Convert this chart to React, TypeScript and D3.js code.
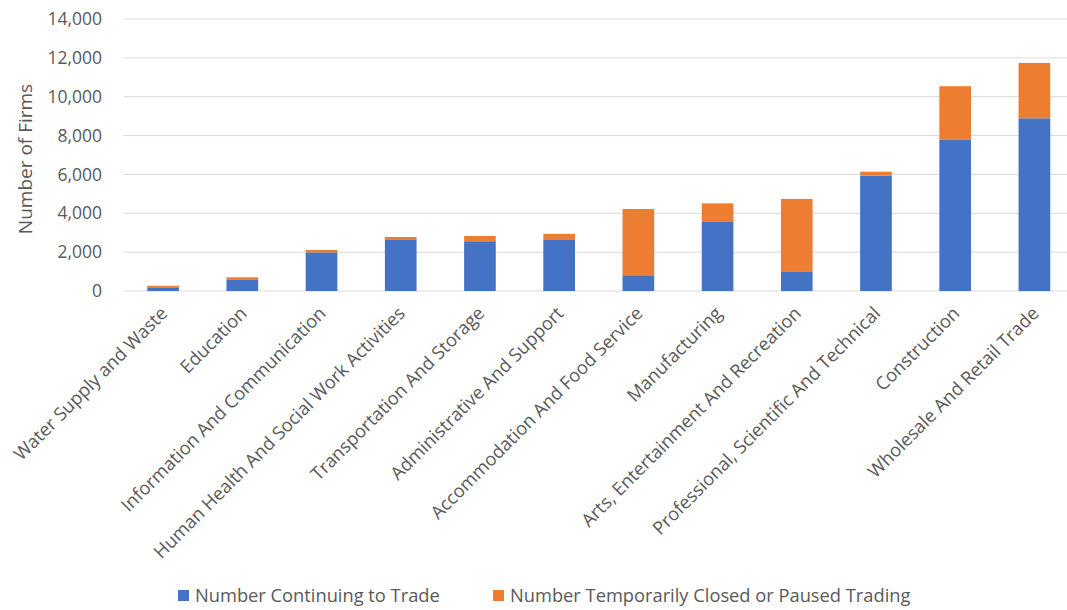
import React from "react";
import * as d3 from "d3";

const categories = [
  "Water Supply and Waste",
  "Education",
  "Information And Communication",
  "Human Health And Social Work Activities",
  "Transportation And Storage",
  "Administrative And Support",
  "Accommodation And Food Service",
  "Manufacturing",
  "Arts, Entertainment And Recreation",
  "Professional, Scientific And Technical",
  "Construction",
  "Wholesale And Retail Trade",
];
const continuing = [190, 600, 1990, 2660, 2560, 2660, 810, 3550, 980, 5940, 7780, 8890];
const closed = [80, 105, 120, 120, 270, 280, 3410, 960, 3760, 200, 2760, 2850];
const yTicks = [0, 2000, 4000, 6000, 8000, 10000, 12000, 14000];
const seriesNames = ["Number Continuing to Trade", "Number Temporarily Closed or Paused Trading"];
const colors = ["#4472C4", "#ED7D31"];

const W = 1067, H = 610;
const M = { left: 123.5, right: 1074, top: 19, bottom: 291 };
const FONT = "'Open Sans', sans-serif";

export default function App() {
  const x = d3.scaleBand<string>().domain(categories).range([M.left, M.right]).paddingInner(0.6).paddingOuter(0.3);
  const y = d3.scaleLinear().domain([0, 14000]).range([M.bottom, M.top]);
  const fmt = d3.format(",");
  const stack = d3.stack<number>().keys(["0", "1"]).value((i, k) => (k === "0" ? continuing[i] : closed[i]));
  const series = stack(categories.map((_, i) => i));
  return (
    <svg width={W} height={H} style={{ position: "absolute", left: 0, top: 0, background: "#fff" }}>
      <rect width={W} height={H} fill="#fff" />
      {yTicks.map((t) => (
        <g key={t}>
          <line x1={M.left} x2={M.right} y1={y(t)} y2={y(t)} stroke="#d9d9d9" strokeWidth={1} />
          <text x={102} y={y(t)} dy="0.35em" textAnchor="end" fontFamily={FONT} fontSize={17.5} fill="#595959">
            {fmt(t)}
          </text>
        </g>
      ))}
      <text transform={`translate(32,${(M.top + M.bottom) / 2 + 4}) rotate(-90)`} textAnchor="middle" fontFamily={FONT} fontSize={19} fill="#595959">
        Number of Firms
      </text>
      {series.map((s, si) => (
        <g key={si} fill={colors[si]}>
          {s.map((d, i) => (
            <rect key={i} x={x(categories[i])} width={x.bandwidth()} y={y(d[1])} height={y(d[0]) - y(d[1])} />
          ))}
        </g>
      ))}
      {categories.map((c) => {
        const cx = (x(c) as number) + x.bandwidth() / 2;
        return (
          <text key={c} transform={`translate(${cx + 1},${M.bottom + 19}) rotate(-45)`} textAnchor="end" dy="0.35em" fontFamily={FONT} fontSize={18.3} fill="#595959">
            {c}
          </text>
        );
      })}
      {seriesNames.map((n, i) => {
        const lx = i === 0 ? 178 : 493;
        return (
          <g key={n}>
            <rect x={lx} y={590} width={11} height={11} fill={colors[i]} />
            <text x={lx + 17} y={596} dy="0.35em" fontFamily={FONT} fontSize={18.3} fill="#595959">
              {n}
            </text>
          </g>
        );
      })}
    </svg>
  );
}
